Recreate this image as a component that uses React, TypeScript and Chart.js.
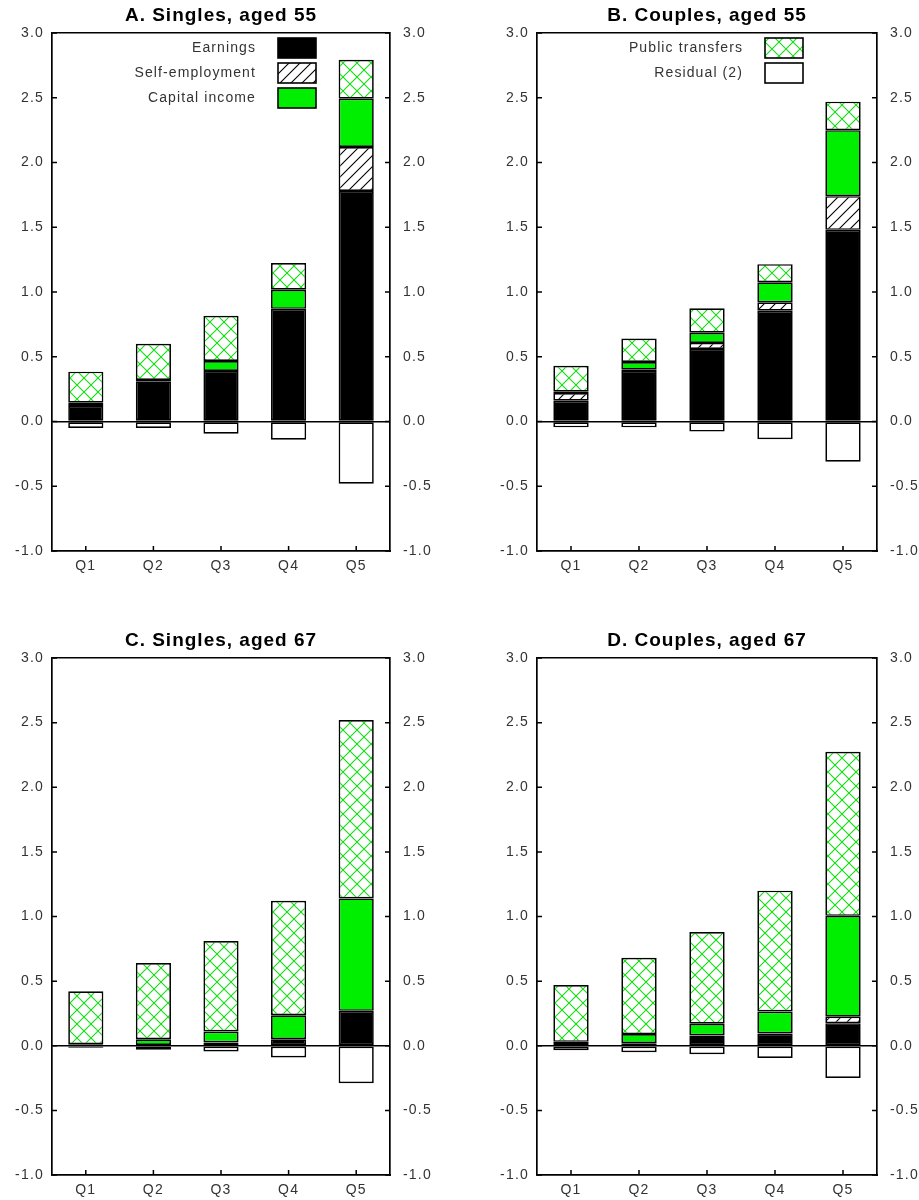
import React, { useEffect, useRef } from 'react';
import { Chart, registerables } from 'chart.js';
Chart.register(...registerables);

const categories = ['Q1', 'Q2', 'Q3', 'Q4', 'Q5'];
const yMin = -1.0;
const yMax = 3.0;
const yStep = 0.5;

// Panel A: Singles, aged 55
const aEarnings = [0.12, 0.31, 0.39, 0.87, 1.78];
const aSelfEmp = [null, null, null, null, 0.34];
const aCapital = [0.025, 0.01, 0.077, 0.147, 0.373];
const aTransfers = [0.24, 0.28, 0.35, 0.206, 0.3];
const aResidual = [-0.05, -0.05, -0.095, -0.14, -0.48];

// Panel B: Couples, aged 55
const bEarnings = [0.16, 0.39, 0.56, 0.855, 1.48];
const bSelfEmp = [0.06, 0.01, 0.047, 0.065, 0.26];
const bCapital = [0.01, 0.06, 0.078, 0.155, 0.51];
const bTransfers = [0.2, 0.18, 0.19, 0.14, 0.22];
const bResidual = [-0.045, -0.045, -0.078, -0.137, -0.31];

// Panel C: Singles, aged 67
const cEarnings = [0.012, null, 0.025, 0.05, 0.27];
const cSelfEmp = [null, null, null, null, null];
const cCapital = [null, 0.05, 0.085, 0.186, 0.87];
const cTransfers = [0.41, 0.59, 0.7, 0.886, 1.38];
const cResidual = [-0.015, -0.03, -0.045, -0.09, -0.29];

// Panel D: Couples, aged 67
const dEarnings = [0.03, 0.02, 0.08, 0.095, 0.175];
const dSelfEmp = [null, null, null, null, 0.05];
const dCapital = [null, 0.07, 0.09, 0.17, 0.78];
const dTransfers = [0.44, 0.59, 0.71, 0.935, 1.27];
const dResidual = [-0.035, -0.05, -0.065, -0.095, -0.25];

const seriesNames = ['Earnings', 'Self-employment', 'Capital income', 'Public transfers', 'Residual (2)'];

const FONT = '"Liberation Sans", Arial, Helvetica, sans-serif';
const GREEN = '#00ee00';
const TEXT = '#333';

function makeHatch() {
  const s = 11;
  const c = document.createElement('canvas');
  c.width = s; c.height = s;
  const g = c.getContext('2d')!;
  g.fillStyle = '#fff'; g.fillRect(0, 0, s, s);
  g.strokeStyle = '#000'; g.lineWidth = 1.1;
  g.beginPath();
  g.moveTo(0, s); g.lineTo(s, 0);
  g.moveTo(-s / 2, s / 2); g.lineTo(s / 2, -s / 2);
  g.moveTo(s / 2, s * 1.5); g.lineTo(s * 1.5, s / 2);
  g.stroke();
  return g.createPattern(c, 'repeat')!;
}

function makeCross() {
  const s = 14;
  const c = document.createElement('canvas');
  c.width = s; c.height = s;
  const g = c.getContext('2d')!;
  g.fillStyle = '#fff'; g.fillRect(0, 0, s, s);
  g.strokeStyle = '#11dd11'; g.lineWidth = 1.1;
  g.beginPath();
  g.moveTo(0, 0); g.lineTo(s, s);
  g.moveTo(s, 0); g.lineTo(0, s);
  g.stroke();
  return g.createPattern(c, 'repeat')!;
}

type PanelProps = {
  title: string;
  series: (number | null)[][];
  legend: number[];
  left: number;
  top: number;
  width: number;
  height: number;
  xHeight: number;
  rightWidth: number;
};

function Panel(p: PanelProps) {
  const ref = useRef<HTMLCanvasElement>(null);
  useEffect(() => {
    const canvas = ref.current!;
    const fills = ['#000000', makeHatch(), GREEN, makeCross(), '#ffffff'];

    const spacing = {
      id: 'spacing',
      beforeUpdate(chart: any) { chart.ctx.letterSpacing = '1.2px'; },
      beforeDraw(chart: any) { chart.ctx.letterSpacing = '1.2px'; },
    };

    const deco = {
      id: 'deco',
      afterDatasetsDraw(chart: any) {
        const { ctx, chartArea, scales } = chart;
        ctx.save();
        ctx.strokeStyle = '#000';
        ctx.lineWidth = 1.5;
        ctx.beginPath();
        scales.y.ticks.forEach((_t: any, i: number) => {
          const py = scales.y.getPixelForTick(i);
          ctx.moveTo(chartArea.left, py); ctx.lineTo(chartArea.left + 5, py);
          ctx.moveTo(chartArea.right - 5, py); ctx.lineTo(chartArea.right, py);
        });
        scales.x.ticks.forEach((_t: any, i: number) => {
          const px = scales.x.getPixelForTick(i);
          ctx.moveTo(px, chartArea.bottom); ctx.lineTo(px, chartArea.bottom - 5);
        });
        ctx.stroke();

        // title
        ctx.letterSpacing = '1px';
        ctx.fillStyle = '#000';
        ctx.font = `bold 19px ${FONT}`;
        ctx.textAlign = 'center';
        ctx.textBaseline = 'alphabetic';
        ctx.fillText(p.title, (chartArea.left + chartArea.right) / 2, chartArea.top - 12);

        // legend
        ctx.letterSpacing = '1.1px';
        ctx.font = `14px ${FONT}`;
        ctx.textAlign = 'right';
        ctx.textBaseline = 'middle';
        p.legend.forEach((si, row) => {
          const bx = chartArea.right - 74 - 38;
          const by = chartArea.top + 5 + row * 25;
          ctx.fillStyle = fills[si];
          ctx.fillRect(bx, by, 38, 20);
          ctx.lineWidth = 1.6;
          ctx.strokeStyle = '#000';
          ctx.strokeRect(bx, by, 38, 20);
          ctx.fillStyle = TEXT;
          ctx.fillText(seriesNames[si], bx - 22, by + 10);
        });
        ctx.restore();
      },
    };

    const tickFont = { family: FONT, size: 14 };
    const chart = new Chart(canvas, {
      type: 'bar',
      data: {
        labels: categories,
        datasets: p.series.map((vals, i) => ({
          label: seriesNames[i],
          data: vals,
          backgroundColor: fills[i] as any,
          borderColor: '#000',
          borderWidth: 1.7,
          borderSkipped: false,
          barPercentage: 0.52,
          categoryPercentage: 1,
          yAxisID: 'y',
        })),
      },
      options: {
        responsive: false,
        animation: false,
        devicePixelRatio: 1,
        layout: { padding: { top: 33, left: 0, right: 0, bottom: 0 } },
        plugins: { legend: { display: false }, tooltip: { enabled: false }, title: { display: false } },
        scales: {
          x: {
            stacked: true,
            offset: true,
            grid: { display: false, drawTicks: false },
            border: { display: true, color: '#000', width: 1.7 },
            ticks: { color: TEXT, font: tickFont, padding: 7, maxRotation: 0 },
            afterFit: (s: any) => { s.height = p.xHeight; },
          },
          y: {
            stacked: true,
            position: 'left',
            min: yMin, max: yMax,
            grid: {
              drawTicks: false,
              color: (c: any) => (c.tick && (c.tick.value === 0 || c.tick.value === yMax) ? '#000' : 'rgba(0,0,0,0)'),
              lineWidth: 1.5,
            },
            border: { display: true, color: '#000', width: 1.7 },
            ticks: { stepSize: yStep, color: TEXT, font: tickFont, padding: 8, callback: (v: any) => Number(v).toFixed(1) },
            afterFit: (s: any) => { s.width = 52; },
          },
          y2: {
            position: 'right',
            min: yMin, max: yMax,
            grid: { display: false, drawTicks: false },
            border: { display: true, color: '#000', width: 1.7 },
            ticks: { stepSize: yStep, color: TEXT, font: tickFont, padding: 13, callback: (v: any) => Number(v).toFixed(1) },
            afterFit: (s: any) => { s.width = p.rightWidth; },
          },
        },
      },
      plugins: [spacing, deco],
    } as any);
    return () => chart.destroy();
  }, []);
  return (
    <div style={{ position: 'absolute', left: p.left, top: p.top, width: p.width, height: p.height }}>
      <canvas ref={ref} width={p.width} height={p.height} style={{ width: p.width, height: p.height, display: 'block' }} />
    </div>
  );
}

export default function App() {
  return (
    <div style={{ position: 'absolute', left: 0, top: 0, width: 919, height: 1200, overflow: 'hidden', background: '#fff' }}>
      <Panel title="A. Singles, aged 55" series={[aEarnings, aSelfEmp, aCapital, aTransfers, aResidual]} legend={[0, 1, 2]}
        left={0} top={0} width={470} height={625} xHeight={74} rightWidth={80} />
      <Panel title="B. Couples, aged 55" series={[bEarnings, bSelfEmp, bCapital, bTransfers, bResidual]} legend={[3, 4]}
        left={485} top={0} width={434} height={625} xHeight={74} rightWidth={42} />
      <Panel title="C. Singles, aged 67" series={[cEarnings, cSelfEmp, cCapital, cTransfers, cResidual]} legend={[]}
        left={0} top={625} width={470} height={575} xHeight={25} rightWidth={80} />
      <Panel title="D. Couples, aged 67" series={[dEarnings, dSelfEmp, dCapital, dTransfers, dResidual]} legend={[]}
        left={485} top={625} width={434} height={575} xHeight={25} rightWidth={42} />
    </div>
  );
}
